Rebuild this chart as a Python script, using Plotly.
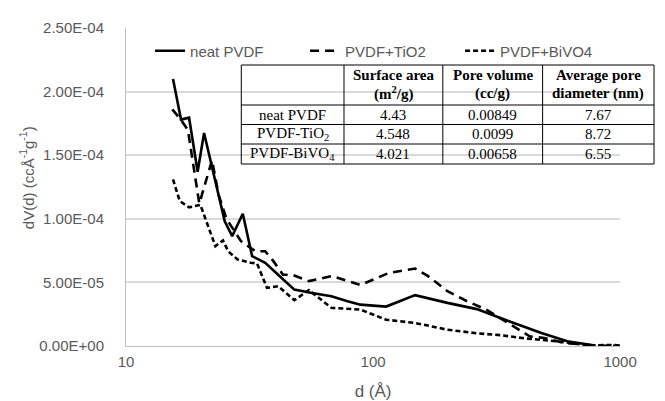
import plotly.graph_objects as go

# ---- data ----
d_neat = [15.5, 16.7, 18.0, 19.5, 20.7, 21.9, 25.1, 26.9, 29.7, 32.4, 36.6, 41.9, 48.0, 56.6, 67.8,
          78.8, 88.9, 113, 148, 200, 263, 355, 480, 611, 790]
v_neat = [2.10e-4, 1.78e-4, 1.795e-4, 1.37e-4, 1.675e-4, 1.47e-4, 0.98e-4, 0.864e-4, 1.04e-4, 0.706e-4,
          0.654e-4, 0.549e-4, 0.443e-4, 0.417e-4, 0.391e-4, 0.352e-4, 0.325e-4, 0.31e-4, 0.40e-4,
          0.339e-4, 0.29e-4, 0.194e-4, 0.102e-4, 0.037e-4, 0.003e-4]

d_tio2 = [15.4, 16.5, 17.8, 19.8, 22.3, 23.7, 25.5, 29.2, 32.0, 33.4, 36.6, 39.5, 43.2, 47.2, 55,
          68, 89, 100, 116, 148, 167, 200, 240, 287, 345, 400, 430, 493, 590, 777, 1000]
v_tio2 = [1.86e-4, 1.79e-4, 1.70e-4, 1.12e-4, 1.46e-4, 1.19e-4, 1.0e-4, 0.824e-4, 0.77e-4, 0.745e-4,
          0.745e-4, 0.667e-4, 0.56e-4, 0.56e-4, 0.51e-4, 0.55e-4, 0.48e-4, 0.52e-4, 0.575e-4,
          0.609e-4, 0.549e-4, 0.431e-4, 0.352e-4, 0.286e-4, 0.194e-4, 0.115e-4, 0.076e-4,
          0.063e-4, 0.024e-4, 0.005e-4, 0.0]

d_bivo4 = [15.5, 16.5, 18.0, 20.0, 23.0, 24.7, 25.9, 28.3, 32.0, 33.9, 37.2, 41.3, 48.0, 55, 67.8,
           88.9, 113, 148, 200, 263, 330, 410, 556, 750, 950, 1000]
v_bivo4 = [1.31e-4, 1.14e-4, 1.09e-4, 1.11e-4, 0.785e-4, 0.83e-4, 0.745e-4, 0.68e-4, 0.654e-4,
           0.65e-4, 0.457e-4, 0.47e-4, 0.36e-4, 0.44e-4, 0.30e-4, 0.286e-4, 0.207e-4, 0.181e-4,
           0.128e-4, 0.10e-4, 0.085e-4, 0.06e-4, 0.037e-4, 0.005e-4, 0.008e-4, 0.003e-4]

series_names = ["neat PVDF", "PVDF+TiO2", "PVDF+BiVO4"]

y_tickvals = [0, 5e-5, 1e-4, 1.5e-4, 2e-4, 2.5e-4]
y_ticktext = ["0.00E+00", "5.00E-05", "1.00E-04", "1.50E-04", "2.00E-04", "2.50E-04"]
x_tickvals = [10, 100, 1000]
x_ticktext = ["10", "100", "1000"]

# table text
table_header_line1 = ["", "Surface area", "Pore volume", "Average pore"]
table_header_line2 = ["", "(m<sup>2</sup>/g)", "(cc/g)", "diameter (nm)"]
table_samples = ["neat PVDF", "PVDF-TiO<sub>2</sub>", "PVDF-BiVO<sub>4</sub>"]
table_surface = ["4.43", "4.548", "4.021"]
table_volume = ["0.00849", "0.0099", "0.00658"]
table_diameter = ["7.67", "8.72", "6.55"]

# ---- layout geometry (pixels) ----
W, H = 665, 401
ML, MR, MT, MB = 118, 1, 20, 63
PW = W - ML - MR
PH = H - MT - MB


def px(x):
    return (x - ML) / PW


def py(y):
    return (H - MB - y) / PH


GRAY = "#595959"
SANS = "Liberation Sans, Arial, sans-serif"
SERIF = "Liberation Serif, Times New Roman, serif"

fig = go.Figure()
fig.add_trace(go.Scatter(x=d_neat, y=v_neat, mode="lines", name=series_names[0],
                         line=dict(color="black", width=2.6)))
fig.add_trace(go.Scatter(x=d_tio2, y=v_tio2, mode="lines", name=series_names[1],
                         line=dict(color="black", width=2.6, dash="9px,6px")))
fig.add_trace(go.Scatter(x=d_bivo4, y=v_bivo4, mode="lines", name=series_names[2],
                         line=dict(color="black", width=2.6, dash="5px,3px")))

# ---- table drawn with shapes + annotations ----
col_edges = [237, 343, 445, 548, 663]
row_edges = [57, 97, 116.5, 136, 156]
shapes = []
for ye in row_edges:
    shapes.append(dict(type="line", xref="paper", yref="paper", x0=px(col_edges[0]), x1=px(col_edges[-1]),
                       y0=py(ye), y1=py(ye), line=dict(color="black", width=1)))
for xe in col_edges:
    shapes.append(dict(type="line", xref="paper", yref="paper", x0=px(xe), x1=px(xe),
                       y0=py(row_edges[0]), y1=py(row_edges[-1]), line=dict(color="black", width=1)))

annotations = []
col_centers = [(col_edges[i] + col_edges[i + 1]) / 2 for i in range(4)]
for i in range(1, 4):
    annotations.append(dict(text="<b>" + table_header_line1[i] + "</b>", x=px(col_centers[i]), y=py(67),
                            xref="paper", yref="paper", showarrow=False, xanchor="center", yanchor="middle",
                            font=dict(family=SERIF, size=15, color="black")))
    annotations.append(dict(text="<b>" + table_header_line2[i] + "</b>", x=px(col_centers[i]), y=py(86),
                            xref="paper", yref="paper", showarrow=False, xanchor="center", yanchor="middle",
                            font=dict(family=SERIF, size=15, color="black")))
body_cols = [table_samples, table_surface, table_volume, table_diameter]
for r in range(3):
    yc = (row_edges[r + 1] + row_edges[r + 2]) / 2
    for c in range(4):
        annotations.append(dict(text=body_cols[c][r], x=px(col_centers[c]), y=py(yc),
                                xref="paper", yref="paper", showarrow=False, xanchor="center",
                                yanchor="middle", font=dict(family=SERIF, size=15, color="black")))

annotations.append(dict(text="dV(d) (ccÅ<sup>-1</sup>g<sup>-1</sup>)", textangle=-90, xref="paper", yref="paper",
                        x=px(15), y=py(170), xanchor="center", yanchor="middle", showarrow=False,
                        font=dict(family=SANS, size=15, color=GRAY)))

fig.update_layout(
    width=W, height=H,
    margin=dict(l=ML, r=MR, t=MT, b=MB),
    paper_bgcolor="white", plot_bgcolor="white",
    font=dict(family=SANS, size=15, color=GRAY),
    showlegend=True,
    legend=dict(orientation="h", x=0.485, xanchor="center", y=py(43), yanchor="middle",
                bgcolor="rgba(0,0,0,0)", font=dict(family=SANS, size=15, color=GRAY),
                entrywidth=110, entrywidthmode="pixels"),
    xaxis=dict(type="log", range=[1, 3], domain=[0, px(628)], tickvals=x_tickvals, ticktext=x_ticktext,
               showgrid=False, showline=True, linecolor="#bfbfbf", linewidth=1, ticks="",
               zeroline=False, ticklabelstandoff=2,
               title=dict(text="d (Å)", font=dict(family=SANS, size=17, color=GRAY), standoff=16)),
    yaxis=dict(range=[0, 2.5e-4], tickvals=y_tickvals, ticktext=y_ticktext,
               showgrid=True, gridcolor="#d9d9d9", gridwidth=1.5, showline=True, linecolor="#bfbfbf",
               ticks="", zeroline=False, ticklabelstandoff=18),
    shapes=shapes,
    annotations=annotations,
)

fig.write_html("out.html")
